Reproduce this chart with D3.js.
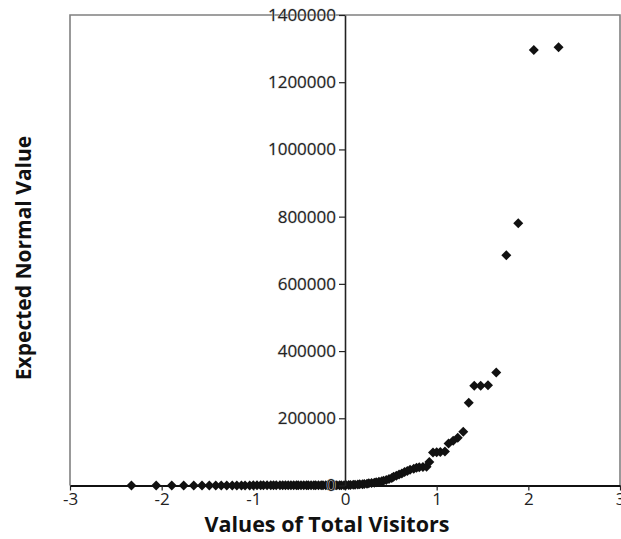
<!DOCTYPE html>
<html>
<head>
<meta charset="utf-8">
<script src="https://cdn.jsdelivr.net/npm/d3@7"></script>
<style>
  html, body { margin: 0; padding: 0; background: #fff; }
  svg { display: block; }
  .tick text { font-family: "Open Sans", sans-serif; font-size: 17px; fill: #222; }
  .title { font-family: "Open Sans", sans-serif; font-weight: 700; font-size: 21px; fill: #111; }
</style>
</head>
<body>
<svg id="chart" width="621" height="539"></svg>
<script>
// Normal scores (x) for the 100 ranked observations
const normalScores = [
  -2.33, -2.06, -1.89, -1.76, -1.65, -1.56, -1.48, -1.41, -1.35, -1.29,
  -1.23, -1.18, -1.13, -1.09, -1.04, -1.00, -0.96, -0.92, -0.89, -0.85,
  -0.81, -0.78, -0.75, -0.71, -0.68, -0.65, -0.62, -0.59, -0.56, -0.53,
  -0.51, -0.48, -0.45, -0.42, -0.40, -0.37, -0.34, -0.32, -0.29, -0.26,
  -0.24, -0.21, -0.19, -0.16, -0.14, -0.11, -0.09, -0.06, -0.04, -0.01,
   0.01,  0.04,  0.06,  0.09,  0.11,  0.14,  0.16,  0.19,  0.21,  0.24,
   0.26,  0.29,  0.32,  0.34,  0.37,  0.40,  0.42,  0.45,  0.48,  0.51,
   0.53,  0.56,  0.59,  0.62,  0.65,  0.68,  0.71,  0.75,  0.78,  0.81,
   0.85,  0.89,  0.92,  0.96,  1.00,  1.04,  1.09,  1.13,  1.18,  1.23,
   1.29,  1.35,  1.41,  1.48,  1.56,  1.65,  1.76,  1.89,  2.06,  2.33
];

// Total visitors, sorted ascending
const totalVisitors = [
     15,    40,    70,    95,   130,   160,   185,   210,   240,   265,
    290,   310,   335,   350,   370,   395,   410,   430,   455,   470,
    490,   515,   530,   550,   575,   590,   610,   635,   650,   670,
    690,   710,   735,   750,   770,   790,   810,   835,   850,   870,
    890,   910,   930,   950,   970,   990,  1010,  1030,  1060,  1090,
   1200,  1500,  1800,  2100,  2500,  3000,  3400,  3900,  4500,  5100,
   6400,  7400,  8500,  9600, 11000, 12400, 14500, 16500, 19000, 22000,
  26000, 29000, 33000, 36000, 40000, 43000, 47000, 50000, 53000, 54000,
  55000, 56000, 70000, 98000, 99000, 100000, 101000, 125000, 133000, 142000,
 160000, 246000, 297000, 297000, 298000, 336000, 685000, 780000, 1296000, 1304000
];

const xTicks = [-3, -2, -1, 0, 1, 2, 3];
const yTicks = [0, 200000, 400000, 600000, 800000, 1000000, 1200000, 1400000];

const svg = d3.select("#chart");
const plot = { left: 70, right: 620, top: 15, bottom: 485.5 };

const x = d3.scaleLinear().domain([-3, 3]).range([plot.left, plot.right]);
const y = d3.scaleLinear().domain([0, 1400000]).range([plot.bottom, plot.top]);

// plot frame
svg.append("path")
  .attr("d", `M${plot.left},${plot.bottom} V${plot.top} H${plot.right} V${plot.bottom}`)
  .attr("fill", "none")
  .attr("stroke", "#808080")
  .attr("stroke-width", 1.6);

// x axis along y = 0
const xAxis = svg.append("g")
  .attr("transform", `translate(0,${y(0)})`)
  .call(d3.axisBottom(x).tickValues(xTicks).tickSize(5).tickSizeOuter(0).tickPadding(2)
    .tickFormat(d => (d < 0 ? "-" : "") + Math.abs(d)));
xAxis.select(".domain").attr("stroke", "#111").attr("stroke-width", 2);
xAxis.selectAll(".tick line").attr("stroke", "#222").attr("stroke-width", 1.2);

// data points (diamonds)
const diamond = "M0,-5L5,0L0,5L-5,0Z";
svg.append("g")
  .selectAll("path")
  .data(normalScores.map((s, i) => [s, totalVisitors[i]]))
  .join("path")
  .attr("d", diamond)
  .attr("transform", d => `translate(${x(d[0])},${y(d[1])})`)
  .attr("fill", "#111");

// y axis through x = 0
const yAxis = svg.append("g")
  .attr("transform", `translate(${x(0)},0)`)
  .call(d3.axisLeft(y).tickValues(yTicks).tickSize(6).tickSizeOuter(0).tickPadding(3)
    .tickFormat(d3.format("d")));
yAxis.select(".domain").attr("stroke", "#222").attr("stroke-width", 1.6);
yAxis.selectAll(".tick line").attr("stroke", "#222").attr("stroke-width", 1.2);
yAxis.selectAll(".tick text")
  .attr("fill", "#222")
  .attr("stroke", "#d8d8d8").attr("stroke-width", 1).attr("paint-order", "stroke");

// axis titles
svg.append("text")
  .attr("class", "title")
  .attr("x", 327)
  .attr("y", 532)
  .attr("text-anchor", "middle")
  .style("font-size", "21.5px")
  .text("Values of Total Visitors");

svg.append("text")
  .attr("class", "title")
  .attr("transform", "translate(31,258) rotate(-90)")
  .attr("text-anchor", "middle")
  .text("Expected Normal Value");
</script>
</body>
</html>
